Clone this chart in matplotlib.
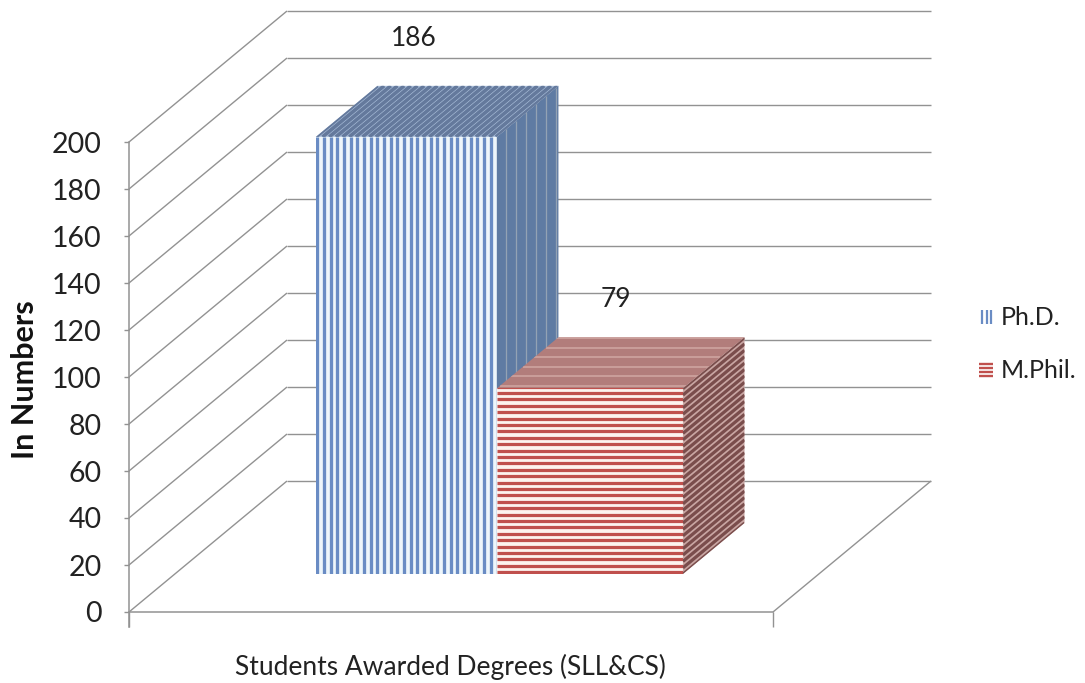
import numpy as np
import matplotlib
matplotlib.use("Agg")
import matplotlib.pyplot as plt
from matplotlib.patches import Polygon
from matplotlib.collections import LineCollection

series = ["Ph.D.", "M.Phil."]
values = [186, 79]
yticks = list(range(0, 201, 20))
xlabel = "Students Awarded Degrees (SLL&CS)"
ylabel = "In Numbers"

W, H = 1085, 683
X0, Y0, PX_X, PX_Y = 129, 612, 644, 2.35   # axis origin (px) and scale
DEPTH_X, DEPTH_Y = 158 / PX_X, 131 / PX_Y  # full-depth offset in data units
edges = [0.219, 0.5, 0.789]                # bar edges along category axis
d_front, d_back = 0.29, 0.68               # bar depth range

plt.rcParams["font.family"] = ["Lato", "DejaVu Sans"]
fig = plt.figure(figsize=(W / 100, H / 100), dpi=100)
ax = fig.add_axes([0, 0, 1, 1])
ax.set_xlim(-X0 / PX_X, (W - X0) / PX_X)
ax.set_ylim((Y0 - H) / PX_Y, Y0 / PX_Y)
ax.patch.set_alpha(0)

def P(x, v, d=0.0):
    return (x + d * DEPTH_X, v + d * DEPTH_Y)

GRID = "#929292"
for s in ["top", "right"]:
    ax.spines[s].set_visible(False)
for s in ["left", "bottom"]:
    ax.spines[s].set_position(("data", 0))
    ax.spines[s].set_color(GRID)
    ax.spines[s].set_linewidth(1.1)
ax.spines["left"].set_bounds(-6.5, 200)
ax.spines["bottom"].set_bounds(0, 1)
ax.set_yticks(yticks)
ax.set_yticklabels([str(t) for t in yticks])
ax.tick_params(axis="y", length=3.8, width=1, color=GRID, pad=16, labelsize=20.5, labelcolor="#222222")
ax.set_xticks([0, 1])
ax.set_xticklabels(["", ""])
ax.tick_params(axis="x", length=11, width=1, color=GRID)

# walls
segs = []
for t in yticks:
    a, b, c = P(0, t), P(0, t, 1), P(1, t, 1)
    segs.append([a, b])
    segs.append([b, c])
segs.append([P(1, 0), P(1, 0, 1)])
ax.add_collection(LineCollection(segs, colors=GRID, linewidths=1.0, zorder=1))

def face(pts, bg, z):
    p = Polygon(pts, closed=True, facecolor=bg, edgecolor="none", zorder=z)
    ax.add_patch(p)
    return p

def stripes(segs, color, lw_px, clip, z):
    lc = LineCollection(segs, colors=color, linewidths=lw_px * 0.72, zorder=z)
    ax.add_collection(lc)
    lc.set_clip_path(clip)

# Ph.D. bar
x1, x2, v = edges[0], edges[1], values[0]
z = 3
step = 6.67 / PX_X
f = face([P(x1, 0, d_front), P(x2, 0, d_front), P(x2, v, d_front), P(x1, v, d_front)], "#eef6fb", z)
stripes([[P(x, 0, d_front), P(x, v, d_front)] for x in np.arange(x1 + 1.5 / PX_X, x2, step)], "#6a8cc4", 3.3, f, z + .1)
f = face([P(x1, v, d_front), P(x2, v, d_front), P(x2, v, d_back), P(x1, v, d_back)], "#a7bcd8", z)
stripes([[P(x, v, d_front), P(x, v, d_back)] for x in np.arange(x1, x2 + step, step)], "#64799c", 3.6, f, z + .1)
f = face([P(x2, 0, d_front), P(x2, v, d_front), P(x2, v, d_back), P(x2, 0, d_back)], "#5f7ba3", z)
stripes([[P(x2, 0, d), P(x2, v, d)] for d in np.arange(d_front + .06, d_back, 10 / 158)], "#93a2b4", 1.3, f, z + .1)

# M.Phil. bar
x1, x2, v = edges[1], edges[2], values[1]
z = 4
step = 6.4 / PX_Y
f = face([P(x1, 0, d_front), P(x2, 0, d_front), P(x2, v, d_front), P(x1, v, d_front)], "#fdf3ef", z)
stripes([[P(x1, t, d_front), P(x2, t, d_front)] for t in np.arange(0.8, v + step, step)], "#c0504d", 3.2, f, z + .1)
f = face([P(x1, v, d_front), P(x2, v, d_front), P(x2, v, d_back), P(x1, v, d_back)], "#b27d7b", z)
stripes([[P(x1, v, d), P(x2, v, d)] for d in np.arange(d_front + .02, d_back, 9.5 / 131)], "#cfa5a1", 1.6, f, z + .1)
f = face([P(x2, 0, d_front), P(x2, v, d_front), P(x2, v, d_back), P(x2, 0, d_back)], "#c9a6a3", z)
stripes([[P(x2, t, d_front), P(x2, t, d_back)] for t in np.arange(-60, v + 1, step)], "#7a4d4c", 3.2, f, z + .1)

# text placed by pixel position through the same data scale
def T(px, py):
    return ((px - X0) / PX_X, (Y0 - py) / PX_Y)

tx = dict(ha="center", va="center", color="#222222")
ax.text(*T(414, 38), str(values[0]), fontsize=19, **tx)
ax.text(*T(616, 299), str(values[1]), fontsize=19, **tx)
ax.text(*T(450, 667), xlabel, fontsize=19, **tx)
ax.text(*T(25, 380), ylabel, fontsize=22, fontweight="bold", rotation=90, ha="center", va="center", color="#111111")

# legend
legend_y = [317, 370]
ax.text(*T(1001, legend_y[0]), series[0], fontsize=18, ha="left", va="center", color="#222222")
ax.text(*T(1001, legend_y[1]), series[1], fontsize=18, ha="left", va="center", color="#222222")
ax.add_collection(LineCollection(
    [[T(px, legend_y[0] - 7), T(px, legend_y[0] + 7)] for px in (982, 986.5, 991)],
    colors="#6a8cc4", linewidths=1.6, zorder=5))
ax.add_collection(LineCollection(
    [[T(979, py), T(993, py)] for py in (legend_y[1] - 6, legend_y[1] - 2, legend_y[1] + 2, legend_y[1] + 6)],
    colors="#c0504d", linewidths=1.7, zorder=5))

fig.savefig("out.png", dpi=100, facecolor="white")
